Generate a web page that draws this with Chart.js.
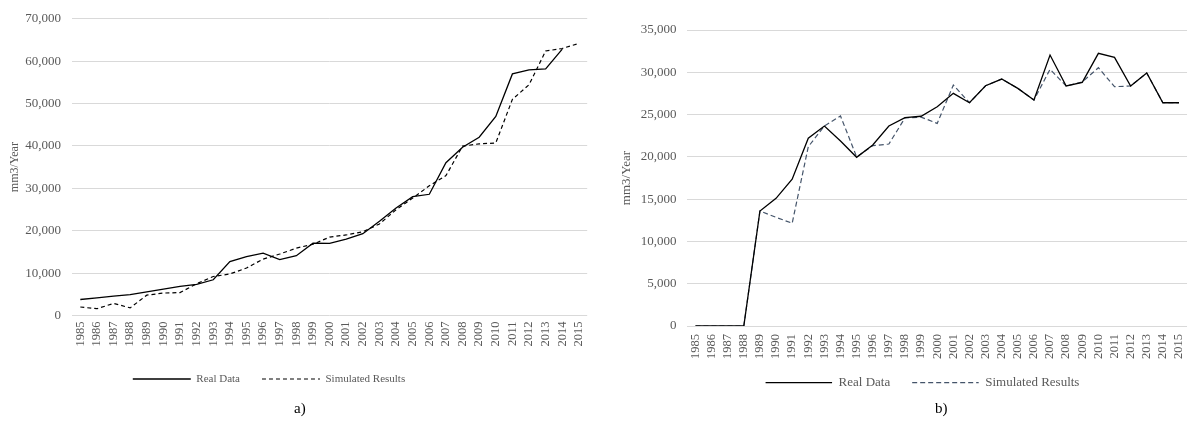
<!DOCTYPE html>
<html>
<head>
<meta charset="utf-8">
<script src="https://cdn.jsdelivr.net/npm/chart.js@4/dist/chart.umd.min.js"></script>
<style>
  html, body { margin: 0; padding: 0; background: #fff; }
  body { width: 1199px; height: 423px; position: relative; overflow: hidden; }
  .panel { position: absolute; top: 0; }
  .tag { position: absolute; font-family: 'Liberation Serif', 'Times New Roman', serif; font-size: 15px; color: #000; line-height: 1; }
</style>
</head>
<body>
<div class="panel" id="wrapA" style="left:0;width:600px;height:423px;"><canvas id="chartA"></canvas></div>
<div class="panel" id="wrapB" style="left:600px;width:602px;height:423px;"><canvas id="chartB"></canvas></div>
<div class="tag" style="left:294px;top:401px;">a)</div>
<div class="tag" style="left:935px;top:401px;">b)</div>
<script>
// Years shown on both horizontal axes
const years = ['1985','1986','1987','1988','1989','1990','1991','1992','1993','1994',
  '1995','1996','1997','1998','1999','2000','2001','2002','2003','2004',
  '2005','2006','2007','2008','2009','2010','2011','2012','2013','2014','2015'];

// Panel a) – mm3/Year
const realA = [3770, 4150, 4550, 4930, 5550, 6200, 6870, 7340, 8430, 12700,
  13900, 14700, 13200, 14100, 17050, 17000, 18000, 19300, 22250, 25350,
  28050, 28600, 36050, 39700, 42050, 46950, 57000, 57950, 58200, 62850, null];
const simA = [2000, 1600, 2850, 1800, 4800, 5300, 5400, 7500, 9200, 9800,
  11200, 13300, 14500, 15900, 16800, 18500, 19000, 19750, 21600, 24950,
  27700, 30600, 33000, 39950, 40500, 40700, 51000, 54450, 62400, 63000, 64200];

// Panel b) – mm3/Year
const realB = [0, 0, 0, 0, 13600, 15100, 17350, 22200, 23650, 21870,
  19950, 21400, 23650, 24630, 24800, 25930, 27510, 26400, 28410, 29200,
  28100, 26720, 32040, 28380, 28810, 32240, 31770, 28380, 29910, 26400, 26400];
const simB = [0, 0, 0, 0, 13600, 12850, 12150, 21200, 23650, 24830,
  20000, 21320, 21520, 24600, 24700, 23960, 28490, 26400, 28410, 29200,
  28100, 26720, 30350, 28380, 28850, 30540, 28300, 28380, 29910, 26400, 26400];

const SERIF = "'Liberation Serif', 'Times New Roman', serif";
const GREY_TEXT = '#595959';
const GRID = '#d9d9d9';

// Moves the legend box after layout
const legendShift = {
  id: 'legendShift',
  afterLayout(chart, args, opts) {
    const lg = chart.legend;
    if (!lg || !opts) return;
    const dx = opts.dx || 0, dy = opts.dy || 0;
    lg.left += dx; lg.right += dx;
    lg.top += dy; lg.bottom += dy;
  }
};

function makeChart(id, cfg) {
  return new Chart(document.getElementById(id), {
    type: 'line',
    data: {
      labels: years,
      datasets: [
        { label: 'Real Data', data: cfg.real, borderColor: '#000', backgroundColor: 'transparent',
          borderWidth: 1.3, pointRadius: 0, tension: 0, spanGaps: false },
        { label: 'Simulated Results', data: cfg.sim, borderColor: cfg.simColor, backgroundColor: 'transparent',
          borderWidth: 1.2, borderDash: cfg.dash, pointRadius: 0, tension: 0 }
      ]
    },
    options: {
      responsive: true,
      maintainAspectRatio: false,
      animation: false,
      events: [],
      layout: { padding: cfg.padding },
      plugins: {
        tooltip: { enabled: false },
        legend: {
          position: 'bottom',
          labels: {
            boxWidth: cfg.legendBox, boxHeight: 0, padding: 22,
            color: GREY_TEXT, font: { family: SERIF, size: cfg.legendFont }
          }
        },
        legendShift: { dx: cfg.legendDx, dy: cfg.legendDy }
      },
      scales: {
        x: {
          offset: true,
          grid: { display: false, drawTicks: false },
          border: { display: false },
          ticks: { autoSkip: false, minRotation: 90, maxRotation: 90, padding: cfg.xPad,
            color: GREY_TEXT, font: { family: SERIF, size: 12.5 } },
          afterFit(s) { s.height = cfg.xHeight; }
        },
        y: {
          min: 0, max: cfg.max,
          grid: { color: GRID, lineWidth: 1, drawTicks: false },
          border: { display: false },
          ticks: { stepSize: cfg.step, padding: 11, color: GREY_TEXT,
            font: { family: SERIF, size: 13 },
            callback: v => v.toLocaleString('en-US') },
          title: { display: true, text: 'mm3/Year', color: GREY_TEXT,
            font: { family: SERIF, size: cfg.titleFont }, padding: { top: cfg.titlePad, bottom: 0 } },
          afterFit(s) { s.width = cfg.yWidth; }
        }
      }
    },
    plugins: [legendShift]
  });
}

makeChart('chartA', {
  real: realA, sim: simA, simColor: '#000', dash: [4, 3],
  max: 70000, step: 10000,
  padding: { top: 15, left: 0, right: 7, bottom: 28.5 },
  yWidth: 72, xHeight: 36, xPad: 6,
  titleFont: 12, titlePad: 8,
  legendFont: 11, legendBox: 58, legendDx: -27.5, legendDy: 0
});

makeChart('chartB', {
  real: realB, sim: simB, simColor: '#44546A', dash: [5, 3],
  max: 35000, step: 5000,
  padding: { top: 30, left: 0, right: 1, bottom: 16 },
  yWidth: 87.4, xHeight: 36, xPad: 8,
  titleFont: 13, titlePad: 19.2,
  legendFont: 13, legendBox: 66.5, legendDx: 22, legendDy: -7.8
});
</script>
</body>
</html>
